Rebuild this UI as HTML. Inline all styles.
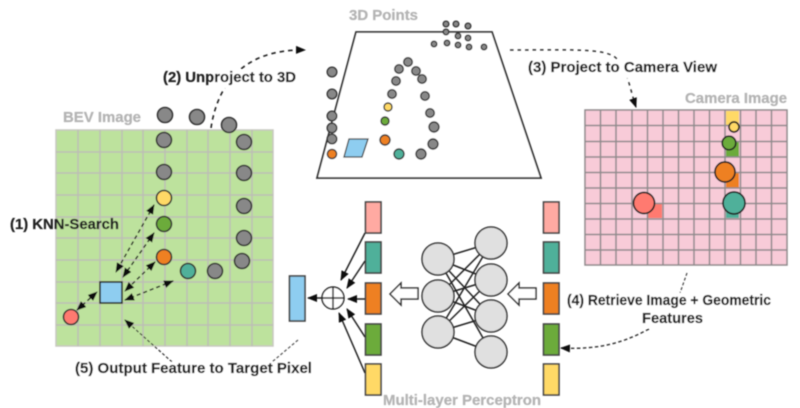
<!DOCTYPE html>
<html><head><meta charset="utf-8"><style>
html,body{margin:0;padding:0;background:#fff;width:800px;height:408px;overflow:hidden}
svg{display:block}
text{font-family:"Liberation Sans",sans-serif;font-weight:bold;font-size:15px;fill:#222;stroke:#222;stroke-width:.25}
text.g{fill:#b4b4b4;stroke:#b4b4b4;font-size:15px}
</style></head><body>
<svg width="800" height="408" viewBox="0 0 800 408" xmlns="http://www.w3.org/2000/svg">
<defs>
<filter id="b" x="-5%" y="-5%" width="110%" height="110%"><feGaussianBlur stdDeviation="0.45"/></filter>
<marker id="a" markerUnits="userSpaceOnUse" markerWidth="11" markerHeight="9" refX="9" refY="4" orient="auto-start-reverse"><path d="M0,0 L10,4 L0,8 Z" fill="#111"/></marker>
</defs>
<g filter="url(#b)">
<!-- BEV grid -->
<rect x="56" y="130" width="217" height="216" fill="#bde29d" stroke="#c8c8c0" stroke-width="1.5"/>
<g stroke="#bdbdb5" stroke-width="1.5">
<path d="M78,130V346M100,130V346M122,130V346M143,130V346M165,130V346M187,130V346M208,130V346M230,130V346M252,130V346"/>
<path d="M56,152H273M56,173H273M56,195H273M56,217H273M56,238H273M56,260H273M56,282H273M56,303H273M56,325H273"/>
</g>
<!-- curve 2 -->
<path d="M211,128 C217,88 240,49 305,50" fill="none" stroke="#222" stroke-width="1.6" stroke-dasharray="4.5 4" marker-end="url(#a)"/>
<g fill="#888" stroke="#333" stroke-width="1.6">
<circle cx="165" cy="115" r="7.5"/><circle cx="197" cy="117" r="7.5"/><circle cx="229" cy="125" r="7.5"/>
<circle cx="164" cy="140" r="7.5"/><circle cx="244" cy="142" r="7.5"/><circle cx="164" cy="172" r="7.5"/>
<circle cx="244" cy="173" r="7.5"/><circle cx="244" cy="206" r="7.5"/><circle cx="244" cy="238" r="7.5"/>
<circle cx="242" cy="261" r="7.5"/><circle cx="215" cy="271" r="7.5"/>
<circle cx="188" cy="271" r="7.5" fill="#4fb09a"/><circle cx="164" cy="257" r="7.5" fill="#ee8020"/>
<circle cx="164" cy="224" r="7.5" fill="#6cab3a"/><circle cx="164" cy="198" r="7.5" fill="#ffd966"/>
<circle cx="71" cy="317" r="7.5" fill="#ff7a70"/>
</g>
<rect x="100" y="282" width="22" height="21" fill="#8ecdf0" stroke="#222" stroke-width="1.6"/>
<g fill="none" stroke="#222" stroke-width="1.5" stroke-dasharray="4 3">
<path d="M154,205 L116,272" marker-start="url(#a)" marker-end="url(#a)"/>
<path d="M154,233 L123,277" marker-start="url(#a)" marker-end="url(#a)"/>
<path d="M155,262 L125,291" marker-start="url(#a)" marker-end="url(#a)"/>
<path d="M173,281 L125,300" marker-start="url(#a)" marker-end="url(#a)"/>
<path d="M77,310 L97,292" marker-start="url(#a)" marker-end="url(#a)"/>
</g>
<!-- 3D trapezoid -->
<path d="M356,32 H492 L541,178 H317 Z" fill="#fff" stroke="#333" stroke-width="1.8"/>
<g fill="#888" stroke="#333" stroke-width="1.4">
<circle cx="446" cy="24" r="2.8"/><circle cx="456" cy="24" r="2.8"/><circle cx="468" cy="26" r="2.8"/>
<circle cx="446" cy="32" r="2.8"/><circle cx="458" cy="36" r="2.8"/><circle cx="468" cy="38" r="2.8"/>
<circle cx="434" cy="44" r="2.8"/><circle cx="447" cy="43" r="2.8"/><circle cx="458" cy="45" r="2.8"/>
<circle cx="469" cy="47" r="2.8"/><circle cx="484" cy="47" r="2.8"/>
<circle cx="332" cy="72" r="4.8"/><circle cx="332" cy="94" r="4.8"/><circle cx="332" cy="116" r="4.8"/>
<circle cx="332" cy="128" r="4.8"/><circle cx="332" cy="139" r="4.8"/><circle cx="332" cy="154" r="4.6" fill="#ee8020"/>
<circle cx="408" cy="62" r="4.3"/><circle cx="399" cy="69" r="4.3"/><circle cx="416" cy="71" r="4.3"/>
<circle cx="396" cy="81" r="4.3"/><circle cx="422" cy="79" r="4.3"/><circle cx="392" cy="94" r="4.3"/>
<circle cx="425" cy="96" r="4.3"/><circle cx="388" cy="107" r="4" fill="#ffd966"/><circle cx="430" cy="113" r="4.3"/>
<circle cx="434" cy="127" r="5"/><circle cx="385" cy="121" r="4" fill="#6cab3a"/><circle cx="385" cy="140" r="5" fill="#ee8020"/>
<circle cx="433" cy="144" r="5"/><circle cx="399" cy="154" r="5" fill="#4fb09a"/><circle cx="421" cy="154" r="5"/>
</g>
<path d="M349,139 H368 L362,157 H344 Z" fill="#8ecdf0" stroke="#444" stroke-width="1.3"/>
<!-- curve 3 -->
<path d="M510,50 C570,50 605,48 616,58 C628,70 630,90 636,107" fill="none" stroke="#333" stroke-width="1.5" stroke-dasharray="3.5 4" marker-end="url(#a)"/>
<!-- camera grid -->
<rect x="585" y="110" width="202" height="155" fill="#f8cbd8"/>
<rect x="726" y="111" width="13" height="15" fill="#ffd966"/>
<rect x="726" y="142" width="13" height="15" fill="#6cab3a"/>
<rect x="726" y="173" width="13" height="15" fill="#ee8020"/>
<rect x="726" y="204" width="13" height="14" fill="#4fb09a"/>
<rect x="648" y="204" width="14" height="14" fill="#ff7a70"/>
<g stroke="#8f8a8c" stroke-width="1.5" fill="none">
<rect x="585" y="110" width="202" height="155"/>
<path d="M600.5,110V265M616,110V265M632,110V265M647.5,110V265M663,110V265M678.5,110V265M694,110V265M709.5,110V265M725,110V265M740.5,110V265M756,110V265M771.5,110V265"/>
<path d="M585,125.5H787M585,141.5H787M585,157H787M585,172.5H787M585,188H787M585,203.5H787M585,219H787M585,234.5H787M585,250H787"/>
</g>
<g stroke="#222" stroke-width="1.7">
<circle cx="734" cy="127" r="5" fill="#ffd966"/><circle cx="729" cy="143" r="6.8" fill="#6cab3a"/>
<circle cx="725" cy="172" r="10" fill="#ee8020"/><circle cx="734" cy="203" r="11" fill="#4fb09a"/>
<circle cx="644" cy="203" r="10.5" fill="#ff7a70"/>
</g>
<!-- curves 4, 5 -->
<path d="M687,273 L680,293" fill="none" stroke="#444" stroke-width="1.2" stroke-dasharray="3 2"/>
<path d="M649,329 C625,342 600,350 561,348" fill="none" stroke="#333" stroke-width="1.4" stroke-dasharray="3.5 2.5" marker-end="url(#a)"/>
<path d="M172,362 L125,320" fill="none" stroke="#333" stroke-width="1.2" stroke-dasharray="3 2" marker-end="url(#a)"/>
<path d="M298,340 L272,362" fill="none" stroke="#555" stroke-width="1.2" stroke-dasharray="3 2"/>
<!-- MLP connections -->
<g stroke="#222" stroke-width="1.5">
<path d="M438,259L491,243M438,259L491,280M438,259L491,316M438,259L491,352M438,296L491,243M438,296L491,280M438,296L491,316M438,332L491,243M438,332L491,280M438,332L491,316M438,332L491,352"/>
</g>
<g fill="#e0e0e0" stroke="#333" stroke-width="1.5">
<circle cx="438" cy="259" r="16"/><circle cx="438" cy="296" r="16"/><circle cx="438" cy="332" r="16"/>
<circle cx="491" cy="243" r="16"/><circle cx="491" cy="280" r="16"/><circle cx="491" cy="316" r="16"/><circle cx="491" cy="352" r="16"/>
</g>
<!-- feature rects -->
<g stroke="#444" stroke-width="1.6">
<rect x="365.500" y="202" width="15.500" height="31" fill="#ffaaa2"/>
<rect x="365.500" y="242" width="15.500" height="31" fill="#4fb09a"/>
<rect x="365.500" y="283" width="15.500" height="31" fill="#ee8020"/>
<rect x="365.500" y="324" width="15.500" height="31" fill="#6cab3a"/>
<rect x="365.500" y="364" width="15.500" height="31" fill="#ffd966"/>
<rect x="543.500" y="202" width="15.500" height="31" fill="#ffaaa2"/>
<rect x="543.500" y="242" width="15.500" height="31" fill="#4fb09a"/>
<rect x="543.500" y="283" width="15.500" height="31" fill="#ee8020"/>
<rect x="543.500" y="324" width="15.500" height="31" fill="#6cab3a"/>
<rect x="543.500" y="364" width="15.500" height="31" fill="#ffd966"/>
<rect x="289.500" y="276" width="15.500" height="45" fill="#8ecdf0"/>
</g>
<!-- hollow arrows -->
<g fill="#fff" stroke="#333" stroke-width="1.5">
<path d="M390,294 L401,283 V288 H418 V299 H401 V305 Z"/>
<path d="M508,294 L519,283 V288 H536 V299 H519 V305 Z"/>
</g>
<!-- sum -->
<circle cx="333" cy="298" r="11" fill="#fff" stroke="#222" stroke-width="1.5"/>
<path d="M322,298H344M333,287V309" stroke="#222" stroke-width="1.5"/>
<g stroke="#222" stroke-width="1.5" fill="none">
<path d="M365,233 L341,280" marker-end="url(#a)"/>
<path d="M365,261 L347,288" marker-end="url(#a)"/>
<path d="M365,299 L348,299" marker-end="url(#a)"/>
<path d="M365,337 L347,309" marker-end="url(#a)"/>
<path d="M365,373 L339,313" marker-end="url(#a)"/>
<path d="M322,298 L308,298" marker-end="url(#a)"/>
</g>
<!-- label backgrounds -->
<g fill="#fff">
<rect x="212" y="70" width="84" height="18"/>
<rect x="526" y="61" width="193" height="17"/>
<rect x="565" y="293" width="208" height="17"/>
<rect x="640" y="311" width="65" height="17"/>
<rect x="73" y="362" width="240" height="17"/>
</g>
<!-- labels -->
<text class="g" x="63" y="122" textLength="78" lengthAdjust="spacingAndGlyphs">BEV Image</text>
<text class="g" x="349" y="20" textLength="69" lengthAdjust="spacingAndGlyphs">3D Points</text>
<text class="g" x="685" y="103" textLength="102" lengthAdjust="spacingAndGlyphs">Camera Image</text>
<text class="g" x="383" y="405" textLength="158" lengthAdjust="spacingAndGlyphs">Multi-layer Perceptron</text>
<text x="10" y="229" textLength="109" lengthAdjust="spacingAndGlyphs">(1) KNN-Search</text>
<text x="163" y="82" textLength="133" lengthAdjust="spacingAndGlyphs">(2) Unproject to 3D</text>
<text x="528" y="72" textLength="189" lengthAdjust="spacingAndGlyphs">(3) Project to Camera View</text>
<text x="567" y="305" textLength="204" lengthAdjust="spacingAndGlyphs">(4) Retrieve Image + Geometric</text>
<text x="642" y="323" textLength="61" lengthAdjust="spacingAndGlyphs">Features</text>
<text x="75" y="373" textLength="237" lengthAdjust="spacingAndGlyphs">(5) Output Feature to Target Pixel</text>
</g>
</svg>
</body></html>
